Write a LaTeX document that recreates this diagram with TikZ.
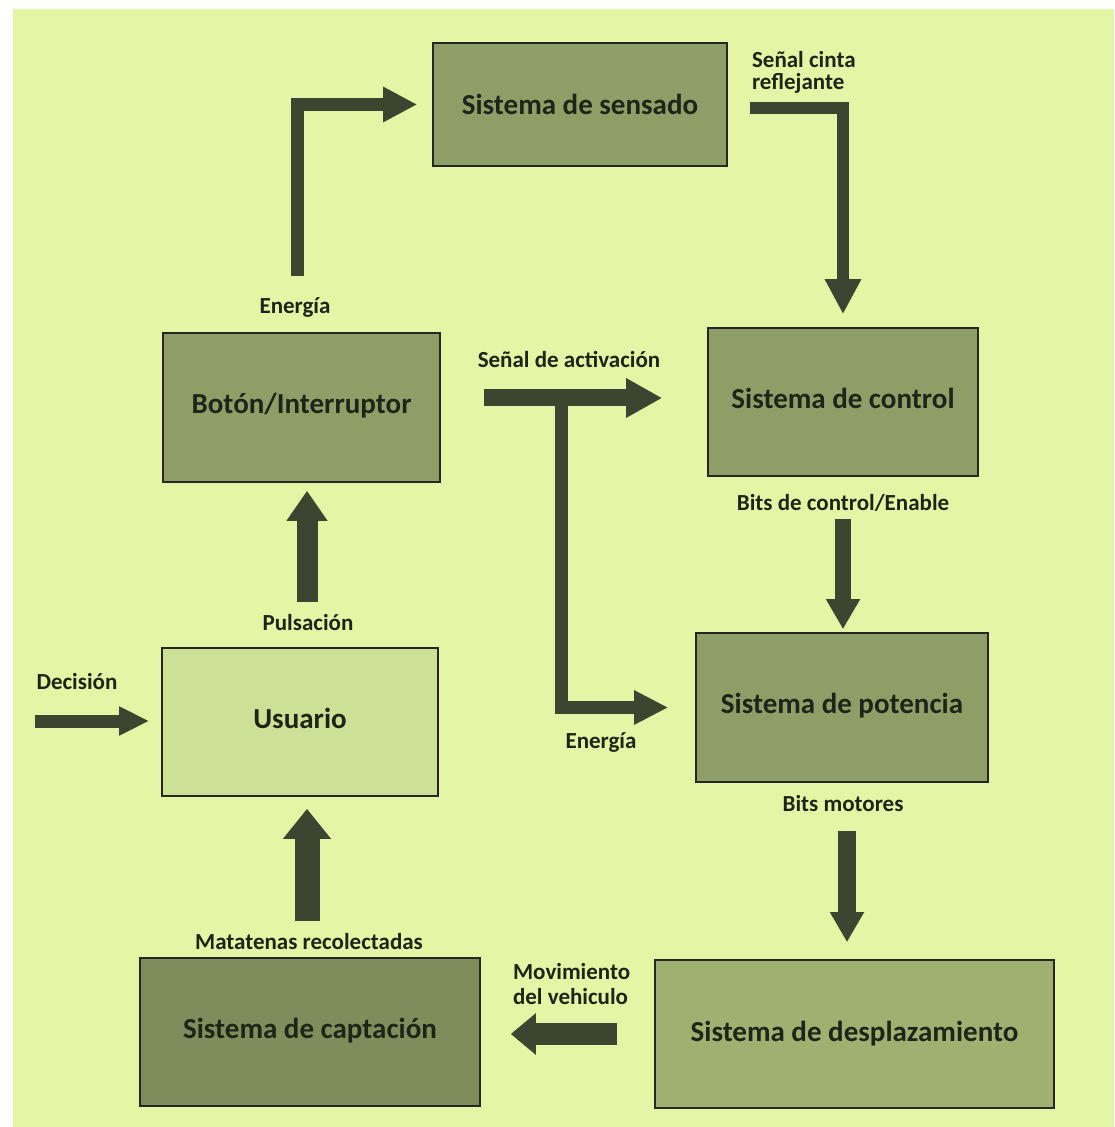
\documentclass[tikz,border=0pt]{standalone}
\usepackage{fontspec}
\setmainfont{Carlito}
\usepackage{xcolor}
\usetikzlibrary{arrows.meta,positioning}

\definecolor{fondo}{HTML}{E4F5A5}
\definecolor{oliva}{HTML}{8F9E67}
\definecolor{olivaosc}{HTML}{7E8D59}
\definecolor{olivaclr}{HTML}{A0B071}
\definecolor{usuarioc}{HTML}{CDE196}
\definecolor{flecha}{HTML}{3B4530}
\definecolor{tinta}{HTML}{1E2418}

\begin{document}
\begin{tikzpicture}[x=0.5pt,y=-0.5pt,
  every node/.style={font=\fontsize{11.5}{11}\selectfont\bfseries, text=tinta},
  bloque/.style={draw=black!85, line width=0.8pt, fill=#1, inner sep=0pt,
    font=\fontsize{14.5}{17}\selectfont\bfseries},
  flujo/.style n args={3}{draw=flecha, line width=#1, -{Triangle[width=#2,length=#3]}}
]
\useasboundingbox (0,0) rectangle (1114,1127);
\fill[white] (0,0) rectangle (1114,1127);
\fill[fondo] (13,9) rectangle (1114,1127);

% ---- bloques ----
\node[bloque=oliva, minimum width=147pt, minimum height=61.5pt] (sensado) at (580,104.5) {\raisebox{-1.5pt}{Sistema de sensado}};
\node[bloque=oliva, minimum width=138.5pt, minimum height=74.5pt] (boton) at (301.5,407.5) {\raisebox{4pt}{Botón/Interruptor}};
\node[bloque=oliva, minimum width=135pt, minimum height=74pt] (control) at (843,402) {\raisebox{4pt}{Sistema de control}};
\node[bloque=oliva, minimum width=146pt, minimum height=74.5pt] (potencia) at (842,707.5) {\raisebox{4pt}{Sistema de potencia}};
\node[bloque=usuarioc, minimum width=138pt, minimum height=74pt] (usuario) at (300,722) {\raisebox{4pt}{Usuario}};
\node[bloque=olivaosc, minimum width=170pt, minimum height=74pt] (captacion) at (310,1032) {\raisebox{4pt}{Sistema de captación}};
\node[bloque=olivaclr, minimum width=199.5pt, minimum height=74pt] (desplaz) at (854.5,1034) {Sistema de desplazamiento};

% ---- etiquetas ----
\node (lbenergia) at (295,308) {Energía};
\node[align=left, anchor=west, font=\fontsize{11.5}{11}\selectfont\bfseries] (lbcinta) at (745,72) {Señal cinta\\reflejante};
\node (lbactiv) at (569,360) {Señal de activación};
\node (lbbits) at (843,503) {Bits de control/Enable};
\node (lbpulsa) at (308,623) {Pulsación};
\node (lbdecis) at (77,682) {Decisión};
\node (lbenergia2) at (601,743) {Energía};
\node (lbmotores) at (843,804) {Bits motores};
\node (lbmatat) at (309,942) {Matatenas recolectadas};
\node[align=left, anchor=west, font=\fontsize{11.5}{12.5}\selectfont\bfseries] (lbmovim) at (506,984.5) {Movimiento\\del vehiculo};

% ---- flechas ----
\coordinate (split) at (561,398);
\coordinate (dec) at (35,721);
\draw[flujo={6.5pt}{16.5pt}{17pt}, shorten <=28pt, shorten >=7.5pt]
  ([xshift=-2pt]boton.north) |- (sensado.west);
\draw[flujo={6pt}{17pt}{17.5pt}, shorten <=11pt, shorten >=6.5pt]
  ([yshift=-1.75pt]sensado.east) -| (control.north);
\draw[flujo={8.5pt}{18.5pt}{18pt}, shorten <=21.5pt, shorten >=22.5pt]
  ([yshift=4.75pt]boton.east) -- ([yshift=4.75pt]boton.east -| control.west);
\draw[flujo={6.5pt}{16pt}{17pt}, shorten >=13.5pt]
  (split) |- (potencia.west);
\draw[flujo={8pt}{16pt}{15pt}, shorten <=21pt, shorten >=1.5pt]
  (control.south) -- (control.south |- potencia.north);
\draw[flujo={9pt}{16pt}{15pt}, shorten <=24pt, shorten >=8.5pt]
  ([xshift=2.5pt]potencia.south) -- ([xshift=2.5pt]potencia.south |- desplaz.north);
\draw[flujo={11pt}{20pt}{12.5pt}, shorten <=18.5pt, shorten >=15pt]
  (desplaz.west) -- (desplaz.west -| captacion.east);
\draw[flujo={12.5pt}{23pt}{15pt}, shorten <=18pt, shorten >=6pt]
  ([xshift=-1.5pt]captacion.north) -- ([xshift=-1.5pt]captacion.north |- usuario.south);
\draw[flujo={10.5pt}{19.5pt}{15pt}, shorten <=22.5pt, shorten >=4pt]
  ([xshift=3.5pt]usuario.north) -- ([xshift=3.5pt]usuario.north |- boton.south);
\draw[flujo={6.5pt}{13.5pt}{15pt}, shorten >=6pt]
  (dec) -- (dec -| usuario.west);
\end{tikzpicture}
\end{document}
